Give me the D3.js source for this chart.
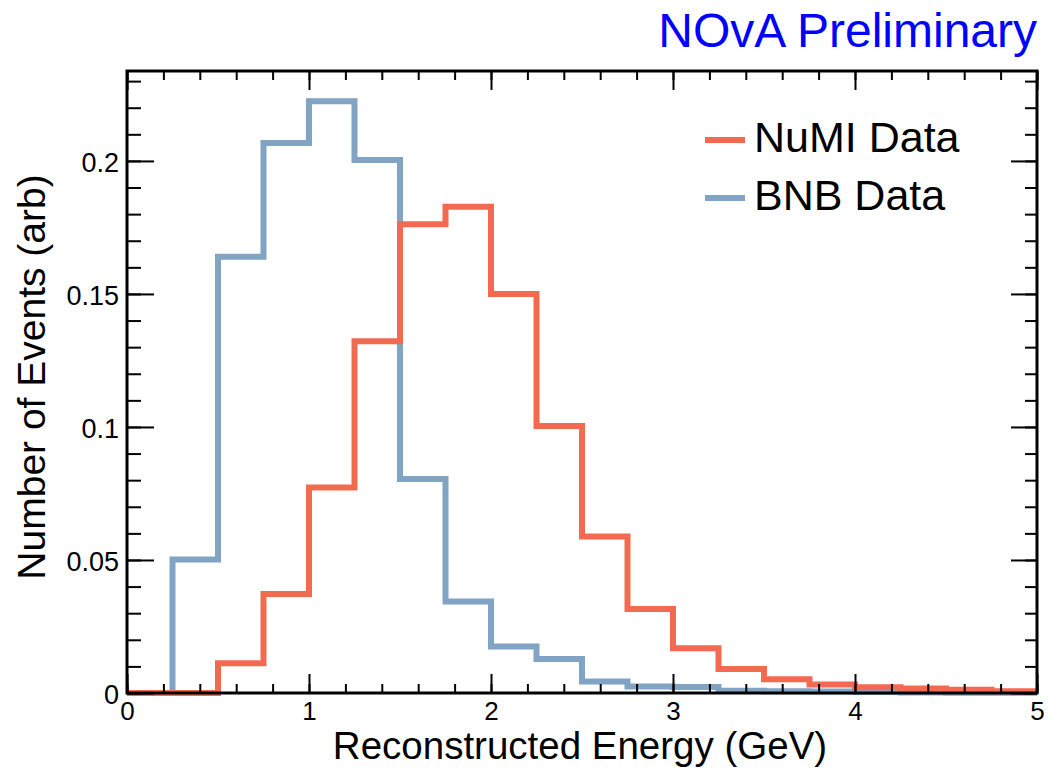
<!DOCTYPE html>
<html>
<head>
<meta charset="utf-8">
<script src="https://cdn.jsdelivr.net/npm/d3@7"></script>
<style>
  html, body { margin: 0; padding: 0; background: #fff; }
  svg { display: block; font-family: "Liberation Sans", Arial, Helvetica, sans-serif; }
</style>
</head>
<body>
<svg id="chart" width="1048" height="772"></svg>
<script>
// ---- data ----
const binEdges = [0, 0.25, 0.5, 0.75, 1.0, 1.25, 1.5, 1.75, 2.0, 2.25, 2.5, 2.75,
                  3.0, 3.25, 3.5, 3.75, 4.0, 4.25, 4.5, 4.75, 5.0];
const numiValues = [0, 0, 0.0112, 0.0372, 0.0772, 0.1322, 0.1762, 0.1828, 0.1500, 0.1004,
                    0.0588, 0.0316, 0.0168, 0.0090, 0.0052, 0.0032, 0.0022, 0.0017, 0.0012, 0.0007];
const bnbValues  = [0, 0.0502, 0.1640, 0.2067, 0.2224, 0.2003, 0.0804, 0.0344, 0.0175, 0.0128,
                    0.0043, 0.0024, 0.0023, 0.0008, 0.0007, 0.0006, 0.0004, 0.0002, 0.0001, 0.0001];
const seriesNames = ["NuMI Data", "BNB Data"];
const xTickValues = [0, 1, 2, 3, 4, 5];
const xTickLabels = ["0", "1", "2", "3", "4", "5"];
const yTickValues = [0, 0.05, 0.1, 0.15, 0.2];
const yTickLabels = ["0", "0.05", "0.1", "0.15", "0.2"];
const xTitle = "Reconstructed Energy (GeV)";
const yTitle = "Number of Events (arb)";
const headerText = "NOvA Preliminary";

// ---- layout / style ----
const L = 127, R = 1037, T = 71, B = 693;
const yMax = 0.2338;
const colors = { "NuMI Data": "#f26a4f", "BNB Data": "#81a3c4" };
const font = '"Liberation Sans", Arial, Helvetica, sans-serif';

const svg = d3.select("#chart");
const x = d3.scaleLinear().domain([0, 5]).range([L, R]);
const y = d3.scaleLinear().domain([0, yMax]).range([B, T]);

// ---- histograms (step outlines) ----
function stepPoints(vals) {
  const pts = [];
  vals.forEach((v, i) => {
    pts.push([binEdges[i], v]);
    pts.push([binEdges[i + 1], v]);
  });
  return pts;
}
const line = d3.line().x(d => x(d[0])).y(d => y(d[1]));
const series = [
  { name: "BNB Data", values: bnbValues },
  { name: "NuMI Data", values: numiValues }
];
svg.append("g").selectAll("path").data(series).join("path")
  .attr("d", d => line(stepPoints(d.values)))
  .attr("fill", "none")
  .attr("stroke", d => colors[d.name])
  .attr("stroke-width", 6)
  .attr("stroke-linejoin", "miter")
  .attr("stroke-linecap", "butt");

// ---- axes ----
const minorX = d3.range(0, 5.0001, 0.2);
const minorY = d3.range(0, yMax, 0.01);

function styleAxis(g) {
  g.select(".domain").remove();
  g.selectAll(".tick line").attr("stroke", "#000").attr("stroke-width", 2);
}

// bottom major
const gb = svg.append("g").attr("transform", `translate(0,${B})`)
  .call(d3.axisBottom(x).tickValues(xTickValues).tickSize(-19).tickPadding(10)
        .tickFormat((d, i) => xTickLabels[i]));
styleAxis(gb);
gb.selectAll(".tick text").attr("font-size", 26).attr("font-family", font).attr("fill", "#000")
  .attr("y", 27).attr("dy", 0);
// bottom minor
styleAxis(svg.append("g").attr("transform", `translate(0,${B})`)
  .call(d3.axisBottom(x).tickValues(minorX).tickSize(-9).tickFormat("")));
// top major + minor
styleAxis(svg.append("g").attr("transform", `translate(0,${T})`)
  .call(d3.axisTop(x).tickValues(xTickValues).tickSize(-19).tickFormat("")));
styleAxis(svg.append("g").attr("transform", `translate(0,${T})`)
  .call(d3.axisTop(x).tickValues(minorX).tickSize(-9).tickFormat("")));

// left major
const gl = svg.append("g").attr("transform", `translate(${L},0)`)
  .call(d3.axisLeft(y).tickValues(yTickValues).tickSize(-27).tickPadding(8)
        .tickFormat((d, i) => yTickLabels[i]));
styleAxis(gl);
gl.selectAll(".tick text").attr("font-size", 27).attr("font-family", font).attr("fill", "#000")
  .attr("dy", "0.4em");
styleAxis(svg.append("g").attr("transform", `translate(${L},0)`)
  .call(d3.axisLeft(y).tickValues(minorY).tickSize(-14).tickFormat("")));
// right
styleAxis(svg.append("g").attr("transform", `translate(${R},0)`)
  .call(d3.axisRight(y).tickValues(yTickValues).tickSize(-26).tickFormat("")));
styleAxis(svg.append("g").attr("transform", `translate(${R},0)`)
  .call(d3.axisRight(y).tickValues(minorY).tickSize(-12).tickFormat("")));

// frame
svg.append("rect").attr("x", L).attr("y", T).attr("width", R - L).attr("height", B - T)
  .attr("fill", "none").attr("stroke", "#000").attr("stroke-width", 3);

// ---- titles ----
svg.append("text").attr("x", (L + R) / 2 - 2).attr("y", 759)
  .attr("text-anchor", "middle").attr("font-size", 38.5).attr("font-family", font)
  .attr("fill", "#000").text(xTitle);
svg.append("text").attr("transform", `translate(45,${(T + B) / 2 - 5}) rotate(-90)`)
  .attr("text-anchor", "middle").attr("font-size", 39).attr("font-family", font)
  .attr("fill", "#000").text(yTitle);
svg.append("text").attr("x", R).attr("y", 47)
  .attr("text-anchor", "end").attr("font-size", 48).attr("font-family", font)
  .attr("fill", "#0000ff").text(headerText);

// ---- legend ----
const leg = svg.append("g").selectAll("g").data(seriesNames).join("g")
  .attr("transform", (d, i) => `translate(705,${140 + i * 58})`);
leg.append("line").attr("x1", 0).attr("x2", 40).attr("y1", 0).attr("y2", 0)
  .attr("stroke", d => colors[d]).attr("stroke-width", 6);
leg.append("text").attr("x", 49).attr("y", 12)
  .attr("font-size", 43).attr("font-family", font).attr("fill", "#000")
  .text(d => d);
</script>
</body>
</html>
